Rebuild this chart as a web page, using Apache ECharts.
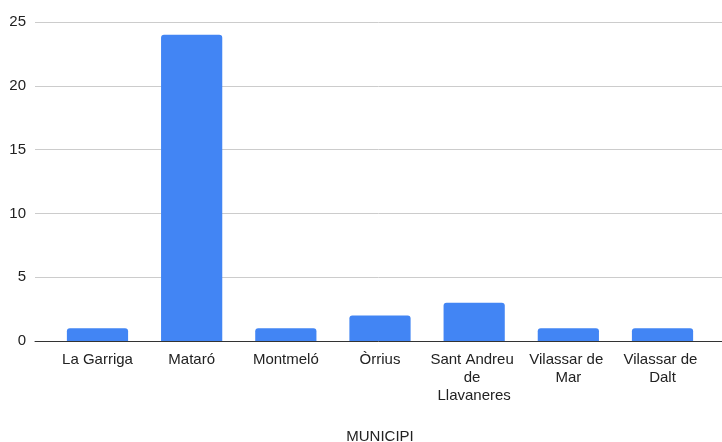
<!DOCTYPE html>
<html>
<head>
<meta charset="utf-8">
<script src="https://cdn.jsdelivr.net/npm/echarts@6/dist/echarts.min.js"></script>
<style>
  html, body { margin: 0; padding: 0; background: #fff; }
  #chart { width: 722px; height: 442px; }
</style>
</head>
<body>
<div id="chart"></div>
<script>
// Municipalities and their counts
const municipis = ['La Garriga', 'Mataró', 'Montmeló', 'Òrrius', 'Sant Andreu de Llavaneres', 'Vilassar de Mar', 'Vilassar de Dalt'];
const valors = [1, 24, 1, 2, 3, 1, 1];
const yTicks = [0, 5, 10, 15, 20, 25];

const FONT = '"Liberation Sans", Arial, sans-serif';
const yMin = yTicks[0];
const yMax = yTicks[yTicks.length - 1];
const yStep = yTicks[1] - yTicks[0];

const chart = echarts.init(document.getElementById('chart'), null, { renderer: 'canvas' });
chart.setOption({
  animation: false,
  backgroundColor: '#ffffff',
  grid: [
    // grid for the bars
    { left: 50.4, right: 12.4, top: 22, bottom: 101, outerBoundsMode: 'none', containLabel: false },
    // wider grid carrying gridlines, y labels and the baseline
    { left: 35, right: 0, top: 22, bottom: 101, outerBoundsMode: 'none', containLabel: false }
  ],
  xAxis: [
    {
      gridIndex: 0,
      type: 'category',
      data: municipis,
      axisLine: { show: false },
      axisTick: { show: false },
      axisLabel: {
        interval: 0,
        margin: 10,
        color: '#222',
        fontFamily: FONT,
        fontSize: 15,
        lineHeight: 18,
        width: 92,
        overflow: 'break'
      },
      name: 'MUNICIPI',
      nameLocation: 'middle',
      nameGap: 88,
      nameTextStyle: { color: '#222', fontFamily: FONT, fontSize: 15 }
    },
    {
      gridIndex: 1,
      type: 'category',
      data: [''],
      axisLine: { show: true, lineStyle: { color: '#333', width: 1 } },
      axisTick: { show: false },
      axisLabel: { show: false },
      z: 5
    }
  ],
  yAxis: [
    {
      gridIndex: 0,
      type: 'value',
      min: yMin, max: yMax, interval: yStep,
      show: false
    },
    {
      gridIndex: 1,
      type: 'value',
      min: yMin, max: yMax, interval: yStep,
      axisLine: { show: false },
      axisTick: { show: false },
      axisLabel: {
        margin: 9,
        color: '#222',
        fontFamily: FONT,
        fontSize: 15,
        padding: [4, 0, 0, 0]
      },
      splitLine: { show: true, lineStyle: { color: '#cccccc', width: 1 } }
    }
  ],
  series: [
    {
      type: 'bar',
      xAxisIndex: 0,
      yAxisIndex: 0,
      data: valors,
      barWidth: '65%',
      itemStyle: { color: '#4285F4', borderRadius: [3, 3, 0, 0] },
      z: 3
    }
  ]
});
</script>
</body>
</html>
